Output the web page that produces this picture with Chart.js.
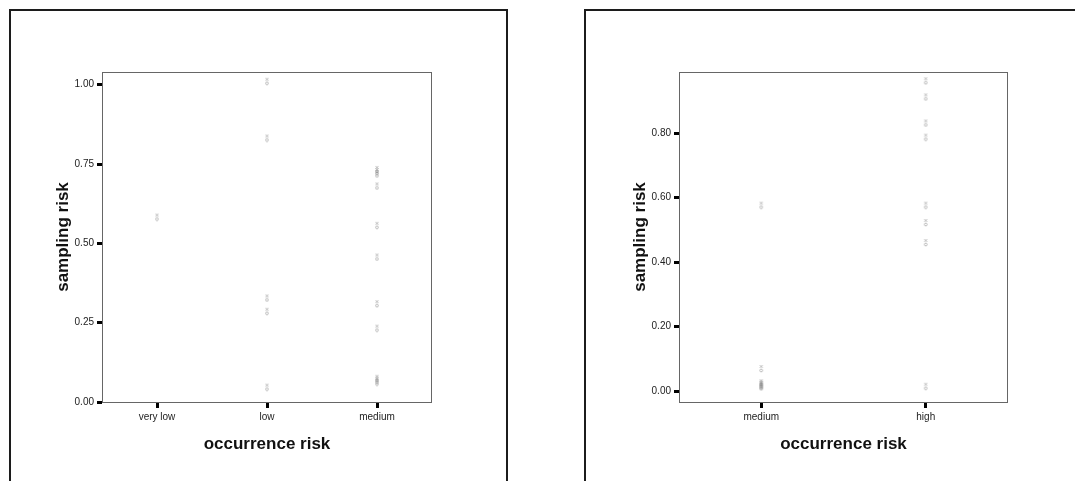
<!DOCTYPE html>
<html>
<head>
<meta charset="utf-8">
<title>sampling risk vs occurrence risk</title>
<script src="https://cdn.jsdelivr.net/npm/chart.js@4.4.1/dist/chart.umd.min.js"></script>
<style>
  html, body { margin: 0; padding: 0; background: #fff; overflow: hidden; }
  #page { position: relative; width: 1075px; height: 481px; }
  .frame { position: absolute; top: 9px; height: 520px; border: 2px solid #1c1c1c; box-sizing: border-box; }
  canvas { position: absolute; top: 0; }
</style>
</head>
<body>
<div id="page">
  <div class="frame" style="left:9px; width:499px;"></div>
  <div class="frame" style="left:584px; width:560px;"></div>
  <canvas id="leftChart" width="540" height="481" style="left:0"></canvas>
  <canvas id="rightChart" width="535" height="481" style="left:540px"></canvas>
</div>
<script>
// Left panel data
const leftCategories = ["very low", "low", "medium"];
const leftVeryLow = [0.583];
const leftLow = [1.011, 0.832, 0.328, 0.286, 0.047];
const leftMedium = [0.733, 0.726, 0.719, 0.681, 0.557, 0.457, 0.31, 0.233, 0.075, 0.069, 0.063];
const leftYTicks = [0, 0.25, 0.5, 0.75, 1.0];

// Right panel data
const rightCategories = ["medium", "high"];
const rightMedium = [0.577, 0.07, 0.026, 0.022, 0.019, 0.016, 0.013];
const rightHigh = [0.963, 0.913, 0.832, 0.788, 0.577, 0.523, 0.461, 0.015];
const rightYTicks = [0, 0.2, 0.4, 0.6, 0.8];

// tiny grey marker (small cross over a small ring)
function makeMarker() {
  const c = document.createElement("canvas");
  c.width = 6;
  c.height = 9;
  const g = c.getContext("2d");
  g.strokeStyle = "rgba(130,130,130,0.5)";
  g.lineWidth = 1;
  g.beginPath();
  g.moveTo(1.5, 1); g.lineTo(4.5, 4);
  g.moveTo(4.5, 1); g.lineTo(1.5, 4);
  g.stroke();
  g.beginPath();
  g.arc(3, 6.5, 1.4, 0, Math.PI * 2);
  g.stroke();
  return c;
}
const marker = makeMarker();

// plot frame around the chart area
const framePlugin = {
  id: "plotFrame",
  afterDraw(chart) {
    const a = chart.chartArea;
    const ctx = chart.ctx;
    ctx.save();
    ctx.strokeStyle = "#666";
    ctx.lineWidth = 1;
    ctx.strokeRect(a.left + 0.5, a.top + 0.5, a.right - a.left - 1, a.bottom - a.top);
    ctx.restore();
  },
};

function toPoints(category, values) {
  return values.map((v) => ({ x: category, y: v }));
}

function buildChart(id, categories, groups, yTicks, yMin, yMax, pad) {
  const datasets = groups.map((grp) => ({
    data: toPoints(grp.name, grp.values),
    pointStyle: marker,
    pointRadius: 4,
    pointHoverRadius: 4,
    showLine: false,
  }));

  return new Chart(document.getElementById(id), {
    type: "scatter",
    data: { labels: categories, datasets: datasets },
    options: {
      responsive: false,
      animation: false,
      events: [],
      layout: { padding: pad },
      plugins: { legend: { display: false }, tooltip: { enabled: false } },
      scales: {
        x: {
          type: "category",
          labels: categories,
          offset: true,
          afterFit: (scale) => { scale.height = 53; },
          border: { display: false },
          grid: {
            offset: false,
            drawOnChartArea: false,
            drawTicks: true,
            tickLength: 6,
            tickWidth: 3,
            tickColor: "#000",
          },
          ticks: {
            padding: 3,
            color: "#222",
            font: { family: "Liberation Sans, Arial, sans-serif", size: 10 },
          },
          title: {
            display: true,
            text: "occurrence risk",
            color: "#111",
            padding: 0,
            font: { family: "Liberation Sans, Arial, sans-serif", size: 17, weight: "bold" },
          },
        },
        y: {
          type: "linear",
          min: yMin,
          max: yMax,
          afterFit: (scale) => { scale.width = 49; },
          afterBuildTicks: (scale) => {
            scale.ticks = yTicks.map((v) => ({ value: v }));
          },
          border: { display: false },
          grid: {
            drawOnChartArea: false,
            drawTicks: true,
            tickLength: 5,
            tickWidth: 3,
            tickColor: "#000",
          },
          ticks: {
            padding: 3,
            color: "#222",
            font: { family: "Liberation Sans, Arial, sans-serif", size: 10 },
            callback: (value) => Number(value).toFixed(2),
          },
          title: {
            display: true,
            text: "sampling risk",
            color: "#111",
            padding: 0,
            font: { family: "Liberation Sans, Arial, sans-serif", size: 17, weight: "bold" },
          },
        },
      },
    },
    plugins: [framePlugin],
  });
}

buildChart(
  "leftChart",
  leftCategories,
  [
    { name: "very low", values: leftVeryLow },
    { name: "low", values: leftLow },
    { name: "medium", values: leftMedium },
  ],
  leftYTicks,
  0,
  1.04,
  { left: 53, top: 72, right: 108, bottom: 26 }
);

buildChart(
  "rightChart",
  rightCategories,
  [
    { name: "medium", values: rightMedium },
    { name: "high", values: rightHigh },
  ],
  rightYTicks,
  -0.034,
  0.99,
  { left: 90, top: 72, right: 67, bottom: 26 }
);
</script>
</body>
</html>
